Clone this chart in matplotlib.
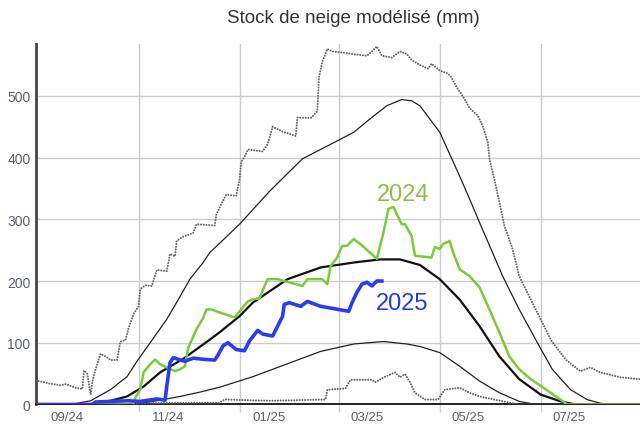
import matplotlib
matplotlib.use("Agg")
from matplotlib import pyplot as plt
import numpy as np

plt.rcParams['font.family'] = ['Liberation Sans', 'DejaVu Sans']

# x = days since 2024-08-13 (left edge of the chart), y = snow water in mm
max_days = [0, 8, 15, 18, 24, 28, 29, 31, 33, 34, 36, 39, 42, 45, 49, 51, 54, 56, 59, 62,
            63, 66, 70, 73, 79, 81, 84, 85, 89, 95, 97, 108, 109, 112, 115, 121, 123, 124, 126, 128,
            137, 140, 143, 149, 157, 158, 166, 170, 171, 173, 176, 179, 186, 193, 200, 203, 206, 209, 215, 220,
            224, 227, 232, 237, 239, 244, 249, 251, 254, 259, 262, 267, 270, 273, 274, 277, 280, 283, 288, 292,
            299, 305, 311, 320, 326, 329, 335, 341, 353, 365]
max_vals = [39, 34, 31, 33, 27, 25, 55, 50, 16, 36, 57, 82, 78, 72, 72, 102, 104, 124, 147, 159,
            187, 193, 192, 218, 216, 244, 240, 265, 272, 278, 292, 290, 308, 325, 340, 338, 365, 393, 401, 413,
            410, 422, 450, 442, 435, 465, 464, 475, 530, 555, 576, 572, 570, 567, 565, 572, 580, 565, 562, 572,
            568, 558, 550, 544, 552, 541, 536, 530, 515, 495, 480, 468, 451, 425, 398, 365, 328, 290, 252, 208,
            170, 138, 105, 73, 60, 54, 60, 52, 44, 41]

min_days = [0, 57, 60, 111, 114, 141, 175, 176, 187, 190, 203, 205, 211, 217, 220, 223, 226, 229, 235, 243,
            247, 256, 262, 268, 277, 286, 292, 365]
min_vals = [0, 0, 2, 3, 8, 6, 8, 24, 26, 40, 40, 36, 45, 52, 44, 49, 36, 19, 8, 8,
            24, 27, 19, 13, 8, 3, 0, 0]

high_days = [21, 33, 45, 55, 61, 69, 79, 86, 93, 101, 105, 123, 141, 161, 182, 192, 202, 212, 221, 227,
             232, 244, 256, 262, 268, 282, 292, 303, 312, 323, 333, 341, 347, 365]
high_vals = [0, 6, 24, 45, 70, 100, 138, 170, 203, 230, 246, 292, 345, 398, 427, 441, 463, 484, 494, 492,
             484, 441, 370, 333, 295, 208, 154, 100, 57, 24, 8, 2, 0, 0]

med_days = [30, 34, 45, 55, 65, 75, 89, 105, 111, 123, 131, 152, 172, 192, 208, 220, 232, 244, 256, 268,
            280, 292, 305, 317, 326, 365]
med_vals = [0, 1, 6, 13, 29, 52, 74, 105, 117, 143, 165, 203, 222, 230, 235, 235, 226, 203, 170, 127,
            78, 41, 16, 5, 0, 0]

low_days = [57, 69, 87, 99, 111, 131, 152, 172, 192, 210, 224, 232, 244, 256, 268, 280, 292, 302, 365]
low_vals = [0, 4, 13, 20, 28, 45, 66, 86, 98, 102, 98, 94, 84, 62, 38, 19, 5, 0, 0]

y2024_days = [0, 59, 60, 63, 65, 69, 72, 75, 79, 84, 87, 90, 92, 95, 97, 101, 103, 106, 111, 120,
              128, 131, 135, 137, 140, 146, 161, 164, 173, 176, 178, 182, 185, 188, 192, 196, 206, 210, 213, 216,
              221, 223, 227, 229, 239, 241, 244, 246, 250, 252, 256, 262, 268, 274, 280, 286, 292, 299, 305, 311,
              317, 321, 365]
y2024_vals = [0, 0, 11, 24, 52, 65, 73, 65, 60, 54, 57, 62, 92, 110, 122, 140, 154, 154, 149, 141,
              167, 170, 172, 185, 203, 203, 192, 203, 203, 195, 224, 238, 257, 257, 268, 260, 236, 279, 317, 320,
              292, 292, 273, 241, 238, 255, 252, 260, 265, 247, 219, 208, 190, 154, 117, 78, 57, 41, 30, 19,
              8, 0, 0]

y2025_days = [0, 34, 36, 55, 63, 73, 78, 79, 81, 83, 86, 90, 95, 102, 108, 110, 113, 116, 121, 126,
              129, 134, 137, 143, 146, 149, 150, 153, 160, 164, 172, 189, 191, 194, 197, 200, 203, 206, 209]
y2025_vals = [0, 0, 4, 6, 5, 9, 7, 29, 68, 76, 73, 70, 75, 73, 72, 80, 95, 100, 89, 87,
              103, 120, 114, 111, 127, 143, 162, 165, 159, 167, 159, 151, 165, 182, 195, 198, 192, 200, 200]

grid_days = [62, 123, 183, 244, 305]
label_days = [19, 80, 141, 200, 261, 322]
month_labels = ['09/24', '11/24', '01/25', '03/25', '05/25', '07/25']

fig = plt.figure(figsize=(6.4, 4.27), dpi=100)
ax = fig.add_axes([0.05625, 0.0504, 0.94375, 0.8442])

ax.plot(high_days, high_vals, color='#222222', lw=0.9, zorder=3)
ax.plot(low_days, low_vals, color='#222222', lw=0.9, zorder=3)
ax.plot(med_days, med_vals, color='#111111', lw=1.6, zorder=3)

dots = dict(color='#666666', lw=1.5, linestyle=(0, (0.01, 1.3)), dash_capstyle='round', zorder=4)
ax.plot(max_days, max_vals, **dots)
ax.plot(min_days, min_vals, **dots)

ax.plot(y2024_days, y2024_vals, color='#78cc3a', lw=1.8, zorder=5)
ax.plot(y2025_days, y2025_vals, color='#2a3cf2', lw=2.6, zorder=6)

ax.text(222, 341, '2024', color='#8cbf4b', fontsize=17, ha='center', va='center', zorder=7)
ax.text(221, 165, '2025', color='#1f3fd6', fontsize=17, ha='center', va='center', zorder=7)

ax.set_xlim(0, 365)
ax.set_ylim(0, 584)

ax.set_xticks(grid_days)
ax.set_xticklabels([])
ax.set_xticks(label_days, minor=True)
ax.set_xticklabels(month_labels, minor=True)
ax.tick_params(axis='x', which='major', length=6, width=1, color='#c8d4ea')
ax.tick_params(axis='x', which='minor', length=0, pad=5, labelsize=9.5, labelcolor='#5a6070')
ax.set_yticks([0, 100, 200, 300, 400, 500])
ax.tick_params(axis='y', length=0, pad=4, labelsize=10, labelcolor='#5a6070')

ax.grid(True, which='major', color='#cccccc', lw=1)
ax.set_axisbelow(True)

for side in ['top', 'right']:
    ax.spines[side].set_visible(False)
ax.spines['left'].set_color('#444444')
ax.spines['left'].set_linewidth(2)
ax.spines['bottom'].set_color('#111111')
ax.spines['bottom'].set_linewidth(1.3)

fig.text(0.552, 0.957, 'Stock de neige modélisé (mm)', ha='center', va='center',
         fontsize=13.5, color='#333333')

plt.savefig('out.png', dpi=100)
